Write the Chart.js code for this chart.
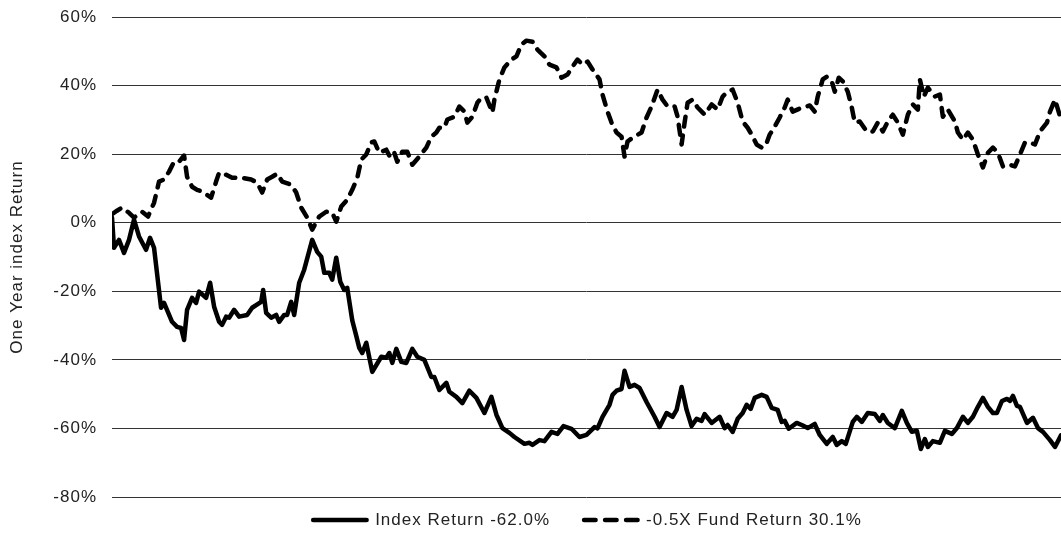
<!DOCTYPE html>
<html>
<head>
<meta charset="utf-8">
<script src="https://cdn.jsdelivr.net/npm/chart.js@4/dist/chart.umd.min.js"></script>
<style>
  html, body { margin: 0; padding: 0; background: #fff; }
  #wrap { width: 1061px; height: 536px; position: relative; }
</style>
</head>
<body>
<div id="wrap"><canvas id="c"></canvas></div>
<script>
const seriesLabels = ['Index Return -62.0%', '-0.5X Fund Return 30.1%'];
const yTickValues = [-80, -60, -40, -20, 0, 20, 40, 60];
const yTitle = 'One Year index Return';

const indexDays = [0,2,7,12,17,22,27,34,38,42,49,52,60,65,69,72,75,80,84,87,94,98,102,107,110,114,117,122,127,135,140,149,151,154,159,164,167,172,175,179,182,187,192,200,205,209,212,217,220,224,228,232,235,240,244,247,250,254,260,269,274,277,280,284,289,294,300,305,312,319,322,327,334,337,344,350,357,364,372,379,384,390,397,402,412,417,420,427,432,439,445,451,459,467,474,482,485,490,497,500,504,509,512,517,522,527,534,542,547,554,560,564,569,574,579,584,589,592,599,607,612,615,620,625,630,634,638,642,649,654,659,665,669,672,676,684,689,695,702,707,714,720,724,729,733,740,744,749,755,762,767,770,775,782,789,794,799,804,808,812,815,820,827,832,839,844,850,855,860,865,870,875,880,884,889,894,897,900,904,907,914,920,925,930,937,942,948];
const indexValues = [1.5,-7.3,-5,-8.8,-5,0.9,-4,-7.9,-4.4,-7.3,-24.8,-23.4,-28.9,-30.4,-30.7,-34.2,-25.4,-21.9,-23.4,-20.1,-21.9,-17.5,-24.5,-28.9,-29.8,-27.4,-27.7,-25.4,-27.4,-26.9,-24.8,-23.1,-19.6,-26.3,-27.7,-26.9,-28.9,-26.9,-26.9,-23.1,-26.9,-17.5,-13.7,-5,-8.5,-9.9,-14.6,-14.6,-16.6,-10.2,-17.2,-19.6,-19,-28.5,-33,-36.5,-38,-35,-43.5,-39.1,-39.4,-38,-40.9,-36.8,-40.6,-40.9,-36.8,-39.1,-40,-45,-45,-48.8,-46.7,-49.3,-50.8,-52.6,-49,-51.1,-55.5,-50.8,-56,-59.9,-61.3,-62.5,-64.5,-64.2,-64.8,-63.4,-63.7,-61,-61.6,-59.3,-60.1,-62.5,-61.9,-59.6,-60,-56.6,-53.1,-50.2,-49,-48.5,-43.2,-47.9,-47.3,-48.2,-52.3,-56.6,-59.6,-55.5,-56.6,-54.6,-47.9,-54.6,-59.3,-57.2,-57.8,-55.8,-58.4,-56.6,-59.9,-59,-61,-57.2,-55.5,-53.1,-54.3,-51.1,-50.2,-50.8,-54,-54.6,-58.1,-57.8,-60.1,-58.4,-59,-59.9,-58.7,-61.9,-64.5,-62.5,-64.8,-63.7,-64.5,-58.1,-56.6,-58.1,-55.5,-55.8,-57.8,-56.1,-58.4,-59.9,-54.9,-58.4,-61,-60.7,-66,-63.1,-65.4,-63.7,-64.2,-60.7,-61.6,-59.9,-56.6,-58.4,-56.6,-53.7,-51.1,-53.7,-55.5,-55.5,-52,-51.4,-52,-50.5,-53.4,-53.7,-58.4,-56.9,-59.9,-61,-63.4,-65.4,-62];

const fundDays = [0,5,10,17,22,30,36,42,47,52,57,62,67,72,75,80,85,90,99,104,107,114,120,130,139,145,150,155,160,165,170,179,184,189,195,200,207,214,220,224,229,235,240,245,249,254,259,262,267,274,278,282,285,290,295,300,307,314,319,324,327,332,335,342,347,352,355,360,365,369,374,380,382,387,392,399,404,409,414,420,425,432,437,444,449,455,460,465,470,475,480,487,490,495,499,504,509,512,515,520,529,534,539,545,550,555,562,565,569,572,575,580,585,592,599,605,610,615,620,625,630,635,639,644,649,653,657,662,667,672,675,680,687,697,702,705,710,714,719,722,726,730,735,739,742,747,754,760,765,770,775,780,785,790,795,800,805,807,811,815,822,827,830,835,842,845,850,855,860,865,870,875,880,885,890,897,902,907,912,917,922,927,934,937,942,948];
const fundValues = [2.5,3.5,4.4,2.9,1.5,3.2,1.8,5.8,12,12.6,14.9,17.8,17.8,19.6,13.4,10.5,9.6,9.1,7.3,12,14.6,14,13.1,13.1,12.6,11.7,8.8,12.6,13.4,14.3,12,11.1,8.8,4.4,1.5,-2,1.8,3.2,2.9,0.3,4.7,6.7,9.6,13,18.4,19.9,23.4,23.7,20.4,21.3,19,20.4,17.8,20.7,20.7,16.9,19.3,21.9,25.1,26.3,27.7,27.7,30.1,30.9,33.9,32.4,29.2,30.9,35,36.5,36.5,32.1,35.9,41.8,45.3,47.6,48.5,52,53.1,52.8,50.5,48.5,46.1,45.3,42.3,43.2,45.5,47.6,46.1,47,44.7,41.8,37.4,32.4,29.2,26.3,25.1,19.3,23.7,24.8,26.3,30.7,33.9,38.8,35.9,33.9,33.9,30.9,22.8,29.2,35,35.9,33.6,31.5,34.5,33,36.8,38.2,38.8,35,29.5,27.7,25.7,22.8,21.9,22.5,25.7,28,30.7,33.6,35.9,32.4,33.3,34.2,32.4,36.8,41.8,42.6,41.2,38.2,42.3,41.2,38.2,33.6,29.2,29.5,26.6,26.6,29.2,26.6,29.5,31.5,29.2,25.7,31.5,34.5,33,41.8,36.8,39.4,36.8,37.4,30.9,33,29.5,26.3,24.2,26.3,24.2,19.9,16.1,20.4,21.9,20.4,16.4,16.9,16.4,19.9,23.4,23.4,22.8,26.6,29.2,32.4,35.9,30.1];

const toPoints = (xs, ys) => xs.map((x, i) => ({ x: x, y: ys[i] }));
const FONT = '"Liberation Sans", Arial, Helvetica, sans-serif';
const FS = 17;
const LEGEND_DASH = [[], [11.5, 9.5]];

const spacingPlugin = {
  id: 'spacing',
  beforeUpdate(chart) { chart.ctx.letterSpacing = '1px'; },
  beforeDraw(chart) { chart.ctx.letterSpacing = '1px'; },
  afterLayout(chart) {
    const lg = chart.legend;
    if (lg) {
      lg.top -= 19.5; lg.bottom -= 19.5;
      lg.left += 57; lg.right += 57;
    }
  }
};

new Chart(document.getElementById('c'), {
  type: 'line',
  data: {
    datasets: [
      {
        label: seriesLabels[0],
        data: toPoints(indexDays, indexValues),
        borderColor: '#000',
        backgroundColor: '#000',
        borderWidth: 4.5,
        borderJoinStyle: 'round',
        borderCapStyle: 'round',
        pointRadius: 0,
        pointHoverRadius: 0,
        pointBorderWidth: 0,
        tension: 0,
        fill: false
      },
      {
        label: seriesLabels[1],
        data: toPoints(fundDays, fundValues),
        borderColor: '#000',
        backgroundColor: '#000',
        borderWidth: 4.5,
        borderDash: [10, 9],
        borderJoinStyle: 'round',
        borderCapStyle: 'round',
        pointRadius: 0,
        pointHoverRadius: 0,
        pointBorderWidth: 0,
        tension: 0,
        fill: false
      }
    ]
  },
  plugins: [spacingPlugin],
  options: {
    responsive: true,
    maintainAspectRatio: false,
    animation: false,
    events: [],
    layout: { autoPadding: false, padding: { top: 17, right: 0, left: 0, bottom: -22 } },
    plugins: {
      tooltip: { enabled: false },
      legend: {
        position: 'bottom',
        labels: {
          usePointStyle: true,
          pointStyle: 'line',
          pointStyleWidth: 53.5,
          color: '#222',
          padding: 34,
          font: { family: FONT, size: FS },
          generateLabels(chart) {
            const items = Chart.defaults.plugins.legend.labels.generateLabels(chart);
            items.forEach((it, i) => {
              it.lineDash = LEGEND_DASH[i] || [];
              it.lineWidth = 4.5;
              it.strokeStyle = '#000';
              it.fillStyle = '#000';
              it.lineCap = 'round';
              it.pointStyle = 'line';
            });
            return items;
          }
        }
      }
    },
    scales: {
      x: { type: 'linear', min: 0, max: 948, display: false },
      y: {
        min: -80,
        max: 60,
        afterBuildTicks: (s) => { s.ticks = yTickValues.map(v => ({ value: v })); },
        afterFit: (s) => { s.width = 112; s.paddingTop = 0; s.paddingBottom = 0; },
        ticks: {
          callback: (v) => v + '%',
          color: '#222',
          padding: 15,
          font: { family: FONT, size: FS }
        },
        grid: { color: '#333', lineWidth: 1, drawTicks: false },
        border: { display: false },
        title: {
          display: true,
          text: yTitle,
          color: '#222',
          padding: { top: 7, bottom: 0 },
          font: { family: FONT, size: FS }
        }
      }
    }
  }
});
</script>
</body>
</html>
